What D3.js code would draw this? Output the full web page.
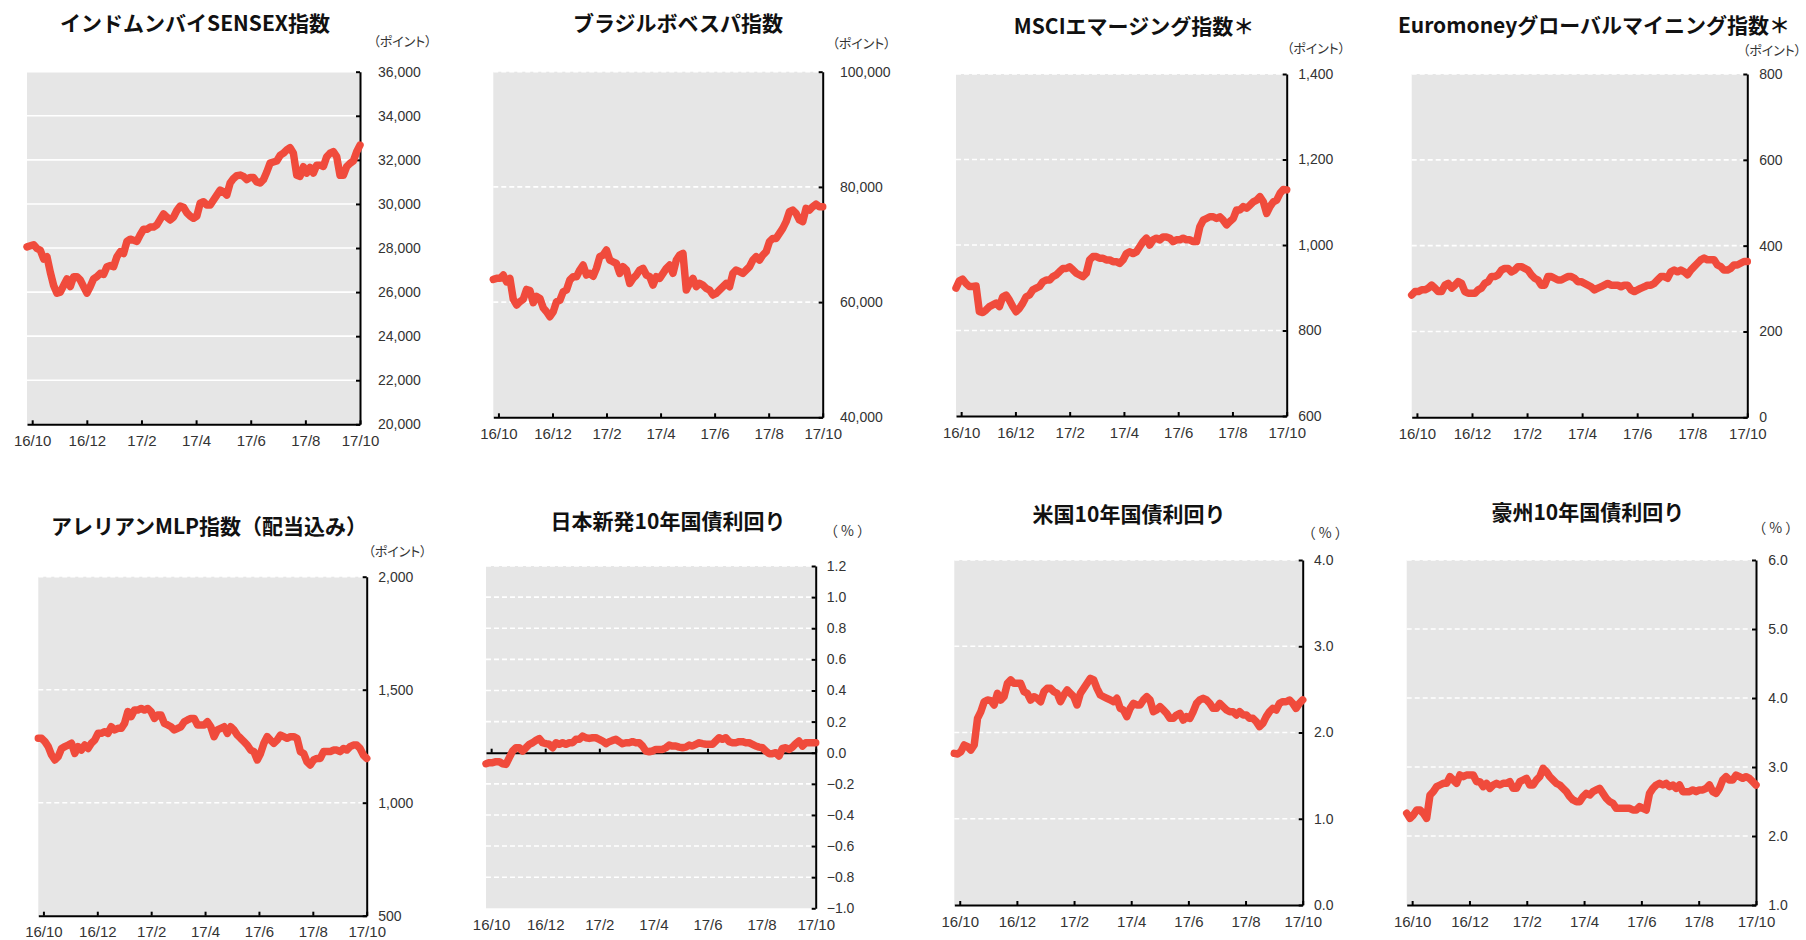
<!DOCTYPE html>
<html><head><meta charset="utf-8">
<script src="https://cdn.jsdelivr.net/npm/d3@7"></script>
<style>
html,body{margin:0;padding:0;background:#fff;}
svg{display:block;}
.title{font-family:"Noto Sans CJK JP",sans-serif;font-weight:700;font-size:21px;fill:#111;}
.unit{font-family:"Noto Sans CJK JP",sans-serif;font-size:13px;fill:#333;font-feature-settings:"palt";}
.unitp{font-family:"Noto Sans CJK JP",sans-serif;font-size:14px;fill:#333;letter-spacing:3px;}
.axis text{font-family:"Liberation Sans",Arial,sans-serif;fill:#333;}
.yax text{font-size:14px;}
.xax text{font-size:15px;}
</style></head><body>
<svg id="c" width="1806" height="940"></svg>
<script>
// ---- shared x axis (months from 2016/10) ----
const monthTicks = [0, 2, 4, 6, 8, 10, 12];
const monthLabels = ["16/10", "16/12", "17/2", "17/4", "17/6", "17/8", "17/10"];
const xStart = -0.19;

// ---- titles and units ----
const titles = ["インドムンバイSENSEX指数", "ブラジルボベスパ指数", "MSCIエマージング指数＊", "Euromoneyグローバルマイニング指数＊",
  "アレリアンMLP指数（配当込み）", "日本新発10年国債利回り", "米国10年国債利回り", "豪州10年国債利回り"];
const units = ["（ポイント）", "（ポイント）", "（ポイント）", "（ポイント）", "（ポイント）", "（%）", "（%）", "（%）"];

// ---- y tick values ----
const sensexTicks = [20000, 22000, 24000, 26000, 28000, 30000, 32000, 34000, 36000];
const bovespaTicks = [40000, 60000, 80000, 100000];
const msciTicks = [600, 800, 1000, 1200, 1400];
const euromoneyTicks = [0, 200, 400, 600, 800];
const alerianTicks = [500, 1000, 1500, 2000];
const jgbTicks = [-1.0, -0.8, -0.6, -0.4, -0.2, 0.0, 0.2, 0.4, 0.6, 0.8, 1.0, 1.2];
const us10Ticks = [0, 1, 2, 3, 4];
const au10Ticks = [1, 2, 3, 4, 5, 6];

// ---- series values (evenly spaced over the period) ----
const sensex = [28050,28100,28150,27980,27900,27500,27600,26900,26300,25950,
26000,26300,26600,26250,26700,26700,26550,26250,25950,26250,
26600,26700,26850,26800,27150,27200,27150,27600,27830,27750,
28300,28400,28350,28300,28600,28850,28850,28950,28950,29050,
29300,29550,29400,29270,29400,29700,29900,29850,29600,29450,
29350,29450,30030,30100,29950,29950,30170,30400,30630,30550,
30400,30950,31150,31280,31310,31250,31100,31200,31200,31000,
30950,31100,31450,31850,31900,31950,32200,32300,32450,32550,
32300,31300,31250,31690,31400,31650,31400,31760,31760,31700,
32140,32300,32370,32150,31300,31300,31690,31840,31950,32370,
32670];
const bovespa = [63950,64120,64120,64700,63500,64100,60500,59500,60070,60500,
62200,62000,59900,61000,60650,59000,58330,57470,58300,60070,
60300,61800,62100,63830,64400,64400,65570,66430,64700,65000,
64500,65860,67880,68170,69040,67300,67000,66720,64990,66140,
65570,63250,64120,64700,65570,65860,64700,64410,62960,64410,
64120,64990,65860,66430,64990,67300,68170,68460,62100,63250,
64120,62670,63250,62960,62380,62100,61230,61520,62100,62670,
63250,62670,64990,65570,65280,64990,65570,66140,67300,67880,
67300,68170,68750,70490,71060,71060,71930,72800,73960,75690,
75980,75400,74250,73960,76270,75980,76560,77020,76560,76560];
const msci = [899,916,920,910,903,903,904,844,842,848,
856,860,864,856,879,883,871,856,844,852,
864,879,883,895,899,903,914,918,918,926,
930,938,945,945,949,942,934,930,926,934,
965,973,973,969,969,965,965,961,961,957,
965,980,984,980,984,996,1008,1016,1000,1012,
1016,1012,1019,1019,1016,1008,1012,1012,1016,1012,
1012,1008,1008,1043,1058,1062,1066,1066,1062,1066,
1058,1047,1055,1062,1082,1082,1090,1086,1093,1101,
1105,1113,1101,1074,1090,1101,1105,1121,1130,1129];
const euromoney = [285,293,293,297,297,301,308,301,293,293,
308,312,301,308,316,312,293,289,289,289,
297,301,312,316,328,328,332,343,347,347,
339,343,351,351,347,343,332,324,320,308,
308,328,328,324,320,320,324,328,328,324,
316,316,312,308,304,297,301,304,308,312,
308,308,308,304,308,308,297,293,297,301,
304,308,308,312,320,328,328,324,339,343,
339,343,339,332,343,351,359,367,371,367,
367,367,355,351,343,343,347,355,355,359,
363,363];
const alerian = [1285,1285,1270,1248,1211,1189,1204,1240,1248,1255,
1263,1218,1248,1233,1255,1240,1263,1277,1307,1307,
1314,1307,1336,1322,1329,1329,1351,1403,1381,1410,
1410,1417,1410,1417,1403,1373,1388,1388,1351,1344,
1336,1322,1329,1336,1358,1366,1373,1373,1344,1344,
1344,1358,1336,1292,1322,1329,1336,1307,1336,1322,
1299,1285,1270,1255,1233,1226,1189,1218,1263,1292,
1277,1263,1277,1299,1292,1285,1292,1292,1285,1226,
1218,1181,1167,1189,1196,1196,1226,1226,1226,1233,
1233,1226,1240,1233,1248,1255,1255,1240,1211,1196];
const jgb = [-0.071,-0.064,-0.064,-0.058,-0.058,-0.071,-0.075,-0.032,0.011,0.032,
0.032,0.011,0.032,0.054,0.064,0.079,0.090,0.064,0.058,0.054,
0.032,0.064,0.054,0.064,0.054,0.064,0.064,0.086,0.086,0.107,
0.096,0.092,0.096,0.096,0.086,0.075,0.058,0.071,0.079,0.086,
0.071,0.058,0.064,0.064,0.071,0.064,0.064,0.043,0.011,0.006,
0.011,0.021,0.021,0.021,0.032,0.049,0.043,0.043,0.036,0.032,
0.036,0.049,0.043,0.054,0.064,0.058,0.054,0.054,0.054,0.075,
0.096,0.086,0.096,0.071,0.064,0.064,0.071,0.071,0.064,0.064,
0.054,0.043,0.036,0.032,0.011,-0.006,-0.006,0.000,-0.021,0.028,
0.032,0.021,0.036,0.058,0.075,0.043,0.064,0.064,0.064,0.064];
const us10 = [1.758,1.751,1.778,1.855,1.836,1.797,1.855,2.164,2.242,2.357,
2.377,2.369,2.319,2.454,2.377,2.415,2.570,2.609,2.570,2.570,
2.570,2.473,2.454,2.377,2.415,2.396,2.357,2.473,2.512,2.512,
2.473,2.454,2.357,2.435,2.493,2.454,2.415,2.319,2.454,2.512,
2.570,2.628,2.609,2.512,2.435,2.415,2.396,2.377,2.357,2.396,
2.280,2.261,2.184,2.280,2.338,2.319,2.319,2.377,2.415,2.377,
2.242,2.261,2.300,2.261,2.222,2.164,2.164,2.203,2.222,2.145,
2.184,2.164,2.242,2.338,2.377,2.396,2.377,2.338,2.280,2.280,
2.338,2.300,2.261,2.242,2.242,2.203,2.242,2.203,2.203,2.164,
2.164,2.126,2.068,2.106,2.184,2.242,2.280,2.261,2.338,2.357,
2.357,2.377,2.338,2.280,2.338,2.377];
const au10 = [2.329,2.256,2.304,2.377,2.377,2.329,2.256,2.594,2.643,2.715,
2.739,2.763,2.763,2.860,2.812,2.763,2.884,2.860,2.884,2.884,
2.884,2.787,2.787,2.715,2.763,2.691,2.739,2.763,2.739,2.763,
2.763,2.787,2.691,2.691,2.787,2.812,2.836,2.739,2.739,2.812,
2.860,2.981,2.932,2.860,2.812,2.763,2.739,2.691,2.643,2.570,
2.522,2.498,2.498,2.570,2.618,2.594,2.643,2.667,2.691,2.618,
2.546,2.498,2.473,2.401,2.401,2.401,2.401,2.401,2.377,2.377,
2.425,2.401,2.377,2.618,2.691,2.739,2.763,2.739,2.763,2.715,
2.739,2.691,2.739,2.643,2.643,2.643,2.667,2.643,2.667,2.667,
2.691,2.739,2.643,2.618,2.691,2.812,2.860,2.812,2.812,2.884,
2.860,2.836,2.860,2.836,2.787,2.739];

// ---- panel table (data refs + layout) ----
const panels = [
  {data: sensex,    ticks: sensexTicks,    fmt: ",",   L: 27,     R: 360,    T: 71.7, B: 424.3, tx: 195,    ty: 21.7,  ux: 402.5, uy: 40.7, lp: 18,   solid: true},
  {data: bovespa,   ticks: bovespaTicks,   fmt: ",",   L: 493.3,  R: 822.7,  T: 71.7, B: 417.3, tx: 678,    ty: 21.7,  ux: 861.5, uy: 42.3, lp: 17.3},
  {data: msci,      ticks: msciTicks,      fmt: ",",   L: 956,    R: 1286.7, T: 74,   B: 416,   tx: 1134,   ty: 25,    ux: 1316,  uy: 47.3, lp: 11.6},
  {data: euromoney, ticks: euromoneyTicks, fmt: ",",   L: 1411.7, R: 1747.3, T: 74,   B: 417.3, tx: 1594,   ty: 24,    ux: 1772,  uy: 49,   lp: 12},
  {data: alerian,   ticks: alerianTicks,   fmt: ",",   L: 38.3,   R: 366.7,  T: 576.7,B: 915.7, tx: 209,    ty: 525,   ux: 397.5, uy: 550,  lp: 11.6},
  {data: jgb,       ticks: jgbTicks,       fmt: ".1f", L: 486,    R: 815.7,  T: 566,  B: 908.3, tx: 668,    ty: 520,   ux: 849,   uy: 530,  lp: 11, base: 0},
  {data: us10,      ticks: us10Ticks,      fmt: ".1f", L: 954.3,  R: 1302.7, T: 560,  B: 905,   tx: 1129,   ty: 512.7, ux: 1326.7,uy: 531.7,lp: 11.3},
  {data: au10,      ticks: au10Ticks,      fmt: ".1f", L: 1406.7, R: 1756,   T: 560,  B: 905,   tx: 1587.8, ty: 510.7, ux: 1777.3,uy: 527.3,lp: 12.3}
];

const svg = d3.select("#c");
const LINE = "#f04b3c", BG = "#e6e6e6";

panels.forEach((p, k) => {
  const g = svg.append("g");
  const x = d3.scaleLinear().domain([xStart, 12]).range([p.L, p.R]);
  const y = d3.scaleLinear().domain([p.ticks[0], p.ticks[p.ticks.length - 1]]).range([p.B, p.T]);
  const baseV = p.base !== undefined ? p.base : p.ticks[0];

  g.append("rect").attr("x", p.L).attr("y", p.T).attr("width", p.R - p.L).attr("height", p.B - p.T).attr("fill", BG);

  // grid lines
  g.selectAll("line.grid").data(p.ticks.filter(t => t !== p.ticks[0] && t !== baseV)).join("line")
    .attr("class", "grid")
    .attr("x1", p.L).attr("x2", p.R).attr("y1", d => y(d)).attr("y2", d => y(d))
    .attr("stroke", "#fff").attr("stroke-width", 1.6)
    .attr("stroke-dasharray", p.solid ? null : "5,3");

  // x axis (at baseline)
  const yb = y(baseV);
  const xa = g.append("g").attr("class", "axis xax").attr("transform", `translate(0,${yb})`)
    .call(d3.axisBottom(x).tickValues(monthTicks).tickFormat((d, i) => monthLabels[i]).tickSizeInner(-4).tickSizeOuter(0));
  xa.select(".domain").attr("stroke", "#000").attr("stroke-width", 2);
  xa.selectAll(".tick line").attr("stroke", "#000").attr("stroke-width", 2);
  xa.selectAll(".tick text").attr("y", p.B + 16.3 - yb).attr("dy", "0.35em");

  // y axis (right)
  const f = d3.format(p.fmt);
  const ya = g.append("g").attr("class", "axis yax").attr("transform", `translate(${p.R},0)`)
    .call(d3.axisRight(y).tickValues(p.ticks).tickFormat(d => f(d)).tickSizeInner(-4).tickSizeOuter(0).tickPadding(p.lp));
  ya.select(".domain").attr("stroke", "#000").attr("stroke-width", 2);
  ya.selectAll(".tick line").attr("stroke", "#000").attr("stroke-width", 2);

  // series line
  const n = p.data.length;
  const step = (12 - xStart) / (n - 1);
  g.append("path").datum(p.data)
    .attr("fill", "none").attr("stroke", LINE).attr("stroke-width", 7.5)
    .attr("stroke-linejoin", "round").attr("stroke-linecap", "round")
    .attr("d", d3.line().x((d, i) => x(xStart + i * step)).y(d => y(d)));

  // title
  g.append("text").attr("class", "title").attr("x", p.tx).attr("y", p.ty)
    .attr("text-anchor", "middle").attr("dominant-baseline", "central").text(titles[k]);
  // unit
  const isPct = units[k].includes("%");
  g.append("text").attr("class", isPct ? "unitp" : "unit")
    .attr("x", p.ux).attr("y", p.uy)
    .attr("text-anchor", "middle").attr("dominant-baseline", "central")
    .text(units[k]);
});
</script>
</body></html>
